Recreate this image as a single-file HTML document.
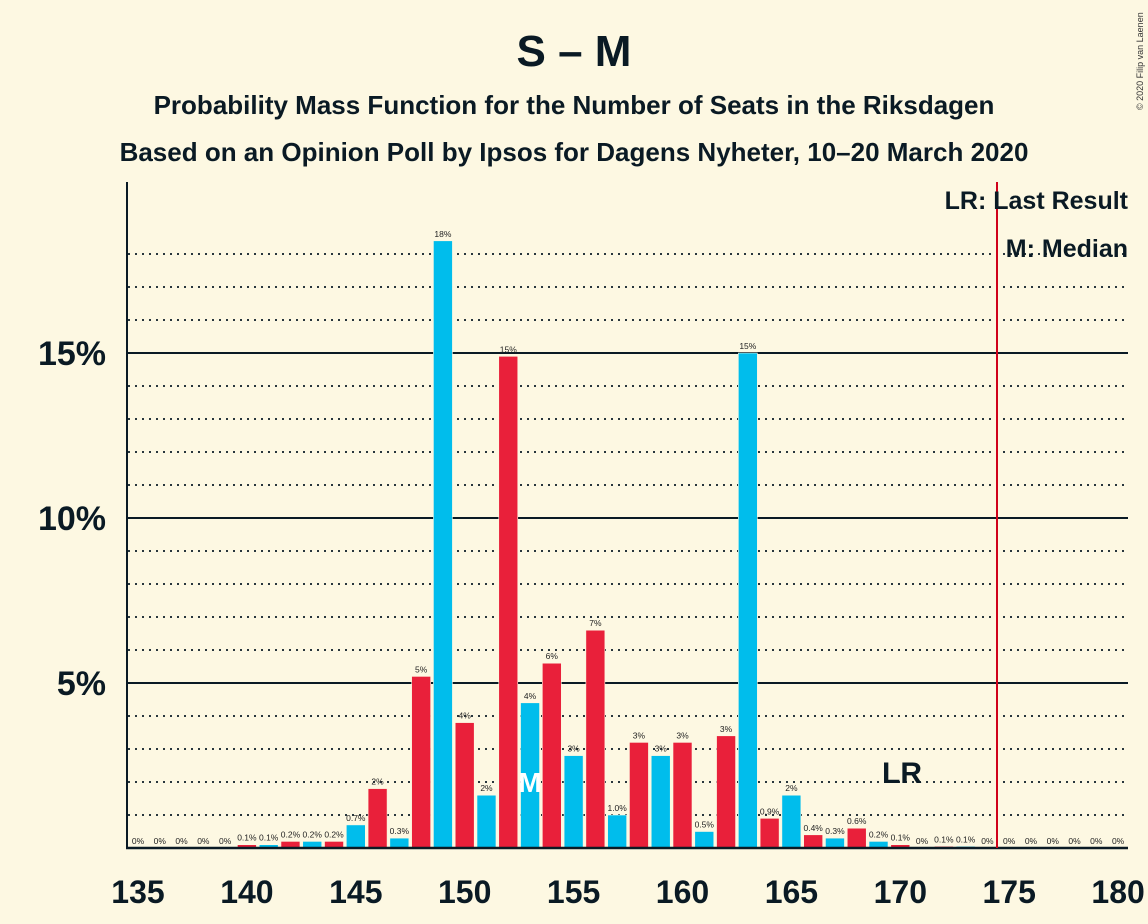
<!DOCTYPE html>
<html><head><meta charset="utf-8"><style>
body{margin:0;background:#FDF8E2;}
svg{display:block;font-family:"Liberation Sans",sans-serif;}
</style></head><body>
<svg width="1148" height="924" xmlns="http://www.w3.org/2000/svg">
<rect width="1148" height="924" fill="#FDF8E2"/>
<text x="574" y="66" text-anchor="middle" font-size="44" font-weight="bold" fill="#0a1a24">S – M</text>
<text x="574" y="114" text-anchor="middle" font-size="26" font-weight="bold" fill="#0a1a24">Probability Mass Function for the Number of Seats in the Riksdagen</text>
<text x="574" y="161" text-anchor="middle" font-size="26" font-weight="bold" fill="#0a1a24">Based on an Opinion Poll by Ipsos for Dagens Nyheter, 10–20 March 2020</text>
<text transform="translate(1143,110) rotate(-90)" font-size="9" fill="#333">© 2020 Filip van Laenen</text>
<g id="grid"></g>
<g id="bars"></g>
<g id="labels"></g>
<line x1="127" y1="182" x2="127" y2="849" stroke="#0a1a24" stroke-width="2"/>
<line x1="126" y1="848" x2="1128" y2="848" stroke="#0a1a24" stroke-width="2.5"/>
<line x1="997" y1="182" x2="997" y2="848" stroke="#D0021B" stroke-width="2"/>
<text x="1128" y="209" text-anchor="end" font-size="25" font-weight="bold" fill="#0a1a24">LR: Last Result</text>
<text x="1128" y="257" text-anchor="end" font-size="25" font-weight="bold" fill="#0a1a24">M: Median</text>
<text x="902" y="783" text-anchor="middle" font-size="30" font-weight="bold" fill="#0a1a24">LR</text>
</svg>
<script>
const seats=[135,136,137,138,139,140,141,142,143,144,145,146,147,148,149,150,151,152,153,154,155,156,157,158,159,160,161,162,163,164,165,166,167,168,169,170,171,172,173,174,175,176,177,178,179,180];
const probs=[0,0,0,0,0,0.1,0.1,0.2,0.2,0.2,0.7,1.8,0.3,5.2,18.4,3.8,1.6,14.9,4.4,5.6,2.8,6.6,1.0,3.2,2.8,3.2,0.5,3.4,15.0,0.9,1.6,0.4,0.3,0.6,0.2,0.1,0,0.05,0.05,0,0,0,0,0,0,0];
const valueLabels=["0%","0%","0%","0%","0%","0.1%","0.1%","0.2%","0.2%","0.2%","0.7%","2%","0.3%","5%","18%","4%","2%","15%","4%","6%","3%","7%","1.0%","3%","3%","3%","0.5%","3%","15%","0.9%","2%","0.4%","0.3%","0.6%","0.2%","0.1%","0%","0.1%","0.1%","0%","0%","0%","0%","0%","0%","0%"];
const xTicks=[135,140,145,150,155,160,165,170,175,180];
const yTicks=[5,10,15];
const gridLevels=[1,2,3,4,5,6,7,8,9,10,11,12,13,14,15,16,17,18];
const medianSeat=153;
const NS="http://www.w3.org/2000/svg";
const xs=s=>138+(s-135)*21.78;
const ys=p=>848-p*33;
function mk(tag,attrs,parent){const e=document.createElementNS(NS,tag);for(const k in attrs)e.setAttribute(k,attrs[k]);document.getElementById(parent).appendChild(e);return e;}
gridLevels.forEach(g=>{
  const solid=yTicks.includes(g);
  const l=mk('line',{x1:128,x2:1128,y1:ys(g),y2:ys(g),stroke:'#0a1a24','stroke-width':solid?2:1.8,'stroke-dasharray':solid?'none':'2,5'},'grid');
  
  
});
yTicks.forEach(t=>{
  const e=mk('text',{x:106,y:ys(t)+12,'text-anchor':'end','font-size':34,'font-weight':'bold',fill:'#0a1a24'},'labels');
  e.textContent=t+'%';
  
  
});
xTicks.forEach(t=>{
  const e=mk('text',{x:xs(t),y:903,'text-anchor':'middle','font-size':32,'font-weight':'bold',fill:'#0a1a24'},'labels');
  e.textContent=t;
  
  
});
seats.forEach((s,i)=>{
  const p=probs[i];
  const col=s%2===0?'#E9203A':'#00BDEC';
  if(p>0){
    const h=Math.max(p*33,1.5);
    const r=mk('rect',{x:xs(s)-9.5,y:848-h,width:19,height:h,fill:col,stroke:'#FDF8E2','stroke-width':0.6},'bars');
    
    
  }
  const t=mk('text',{x:xs(s),y:848-p*33-4,'text-anchor':'middle','font-size':8.5,fill:'#222'},'labels');
  t.textContent=valueLabels[i];
  
  
});
const m=mk('text',{x:xs(medianSeat),y:792,'text-anchor':'middle','font-size':28,'font-weight':'bold',fill:'#ffffff'},'labels');
m.textContent='M';


</script>
</body></html>
